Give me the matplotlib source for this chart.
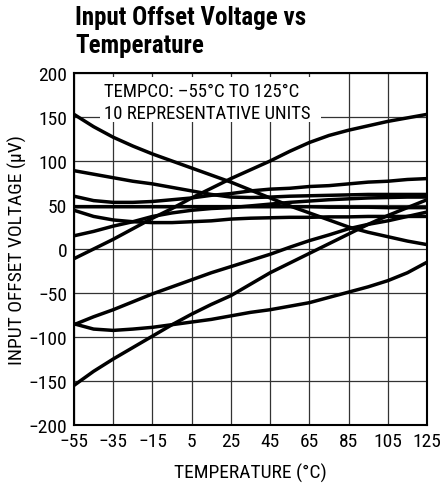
import matplotlib
matplotlib.use("Agg")
import matplotlib.pyplot as plt
from matplotlib import font_manager as fm
from matplotlib.patches import Rectangle

# pick a narrow face if one is installed
fonts = fm.fontManager.ttflist
names = {f.name for f in fonts}
stretch = 'normal'
family = 'DejaVu Sans'
for n in ['Liberation Sans Narrow', 'Roboto Condensed', 'Open Sans Condensed', 'DejaVu Sans Condensed']:
	if n in names:
		family = n
		break
else:
	cond = [f for f in fonts if f.stretch in ('condensed', 'semi-condensed', 'extra-condensed', 500, 300, 400)]
	if cond:
		family = cond[0].name
		stretch = cond[0].stretch
	elif 'Roboto' in names:
		family = 'Roboto'
	elif 'Liberation Sans' in names:
		family = 'Liberation Sans'

plt.rcParams['font.family'] = [family, 'DejaVu Sans']
plt.rcParams['font.stretch'] = stretch

temps = [-55, -45, -35, -25, -15, -5, 5, 15, 25, 35, 45, 55, 65, 75, 85, 95, 105, 115, 125]

unit1 = [153, 139, 127, 117, 108, 100, 92, 84, 76, 67, 58, 49, 41, 33, 25, 19, 14, 9, 5]
unit2 = [-11, 0, 11, 23, 35, 46, 58, 69, 80, 90, 100, 111, 121, 129, 135, 140, 145, 149, 153]
unit3 = [89, 85, 81, 77, 74, 70, 66, 62, 59, 58.5, 59, 60, 60.5, 61, 61.5, 62, 62, 62, 62]
unit4 = [60, 55, 53, 53, 54, 56, 58, 61, 63, 66, 68, 69, 71, 72, 74, 76, 77, 79, 80]
unit5 = [48, 48, 48, 48, 48, 48, 48, 48, 48, 48, 48, 48, 48, 47.5, 47.5, 47.5, 47, 47, 47]
unit6 = [44, 37, 33, 31, 30, 30, 31, 32, 34, 35, 35.5, 36, 36, 36.5, 36.5, 37, 37, 37, 37]
unit7 = [-86, -77, -69, -60, -51, -43, -35, -27, -20, -13, -6, 2, 9.5, 16, 23, 28, 32, 37, 42]
unit8 = [-155, -139, -125, -112, -99, -86, -74, -63, -53, -40, -27, -16, -5, 6, 17, 28, 38, 47, 56]
unit9 = [-85, -91, -92.5, -91, -89, -86, -83, -80, -76, -72, -69, -65, -61, -55, -49, -43, -36, -27, -15]
unit10 = [15, 20, 26, 31, 37, 41, 44, 46, 47, 49, 51, 53, 54.5, 56, 57, 58, 58.5, 59, 59]

units = [unit1, unit2, unit3, unit4, unit5, unit6, unit7, unit8, unit9, unit10]

xticks = [-55, -35, -15, 5, 25, 45, 65, 85, 105, 125]
yticks = [-200, -150, -100, -50, 0, 50, 100, 150, 200]

fig = plt.figure(figsize=(4.4, 4.85), dpi=100)
ax = fig.add_axes([74/440, 1 - 426/485, (427 - 74)/440, (426 - 74)/485])

for x in xticks:
	ax.axvline(x, color='#333333', lw=0.9, zorder=1)
for y in yticks:
	ax.axhline(y, color='#333333', lw=0.9, zorder=1)

for u in units:
	ax.plot(temps, u, color='black', lw=2.5, solid_capstyle='butt', zorder=3)

# white block behind the note so the grid does not show through
ax.add_patch(Rectangle((-41.5, 144.5), 112.5, 50.5, facecolor='white', edgecolor='none', zorder=2))
ax.text(-39.5, 174, "TEMPCO: \u201355\u00b0C TO 125\u00b0C", fontsize=13.5, va='baseline', ha='left', zorder=2.5)
ax.text(-39.5, 149, "10 REPRESENTATIVE UNITS", fontsize=13.5, va='baseline', ha='left', zorder=2.5)

ax.set_xlim(-55, 125)
ax.set_ylim(-200, 200)
ax.set_xticks(xticks)
ax.set_yticks(yticks)
ax.tick_params(length=0, labelsize=14, pad=5)
for s in ax.spines.values():
	s.set_linewidth(1.5)
	s.set_zorder(4)

ax.set_xlabel("TEMPERATURE (\u00b0C)", fontsize=14, labelpad=9)
ax.set_ylabel("INPUT OFFSET VOLTAGE (\u00b5V)", fontsize=14, labelpad=1)

fig.text(75/440, 1 - 25/485, "Input Offset Voltage vs", fontsize=18, fontweight='bold', va='baseline', ha='left')
fig.text(75/440, 1 - 53/485, "Temperature", fontsize=18, fontweight='bold', va='baseline', ha='left')

fig.savefig('out.png', dpi=100)
